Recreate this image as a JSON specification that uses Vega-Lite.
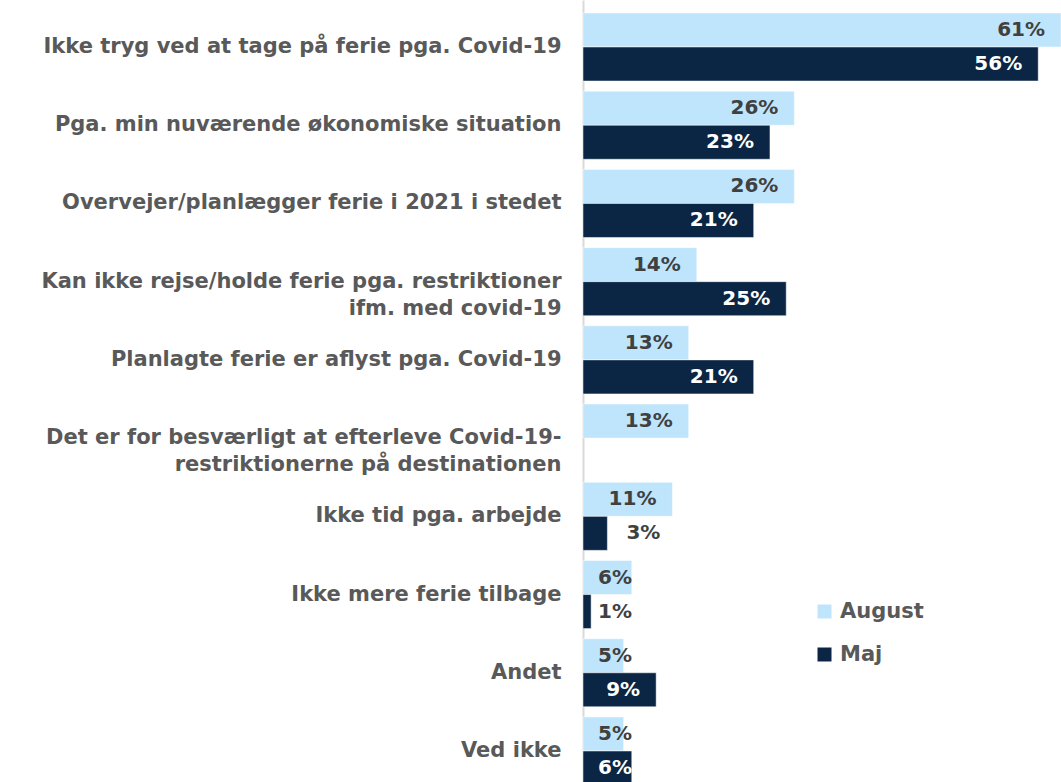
{
  "$schema": "https://vega.github.io/schema/vega-lite/v6.json",
  "autosize": {"type": "none"},
  "padding": {"left": 583, "top": 0, "right": 0, "bottom": 0},
  "width": 478,
  "height": 798,
  "config": {"view": {"stroke": null}, "font": "DejaVu Sans"},
  "data": {
    "values": [
      {"cat": "Ikke tryg ved at tage på ferie pga. Covid-19", "series": "August", "value": 0.61},
      {"cat": "Ikke tryg ved at tage på ferie pga. Covid-19", "series": "Maj", "value": 0.56},
      {"cat": "Pga. min nuværende økonomiske situation", "series": "August", "value": 0.26},
      {"cat": "Pga. min nuværende økonomiske situation", "series": "Maj", "value": 0.23},
      {"cat": "Overvejer/planlægger ferie i 2021 i stedet", "series": "August", "value": 0.26},
      {"cat": "Overvejer/planlægger ferie i 2021 i stedet", "series": "Maj", "value": 0.21},
      {"cat": "Kan ikke rejse/holde ferie pga.  restriktioner|ifm. med covid-19", "series": "August", "value": 0.14},
      {"cat": "Kan ikke rejse/holde ferie pga.  restriktioner|ifm. med covid-19", "series": "Maj", "value": 0.25},
      {"cat": "Planlagte ferie er aflyst pga. Covid-19", "series": "August", "value": 0.13},
      {"cat": "Planlagte ferie er aflyst pga. Covid-19", "series": "Maj", "value": 0.21},
      {"cat": "Det er for besværligt at efterleve Covid-19-|restriktionerne på destinationen", "series": "August", "value": 0.13},
      {"cat": "Ikke tid pga. arbejde", "series": "August", "value": 0.11},
      {"cat": "Ikke tid pga. arbejde", "series": "Maj", "value": 0.03},
      {"cat": "Ikke mere ferie tilbage", "series": "August", "value": 0.06},
      {"cat": "Ikke mere ferie tilbage", "series": "Maj", "value": 0.01},
      {"cat": "Andet", "series": "August", "value": 0.05},
      {"cat": "Andet", "series": "Maj", "value": 0.09},
      {"cat": "Ved ikke", "series": "August", "value": 0.05},
      {"cat": "Ved ikke", "series": "Maj", "value": 0.06}
    ]
  },
  "encoding": {
    "y": {
      "field": "cat",
      "type": "nominal",
      "sort": null,
      "scale": {"paddingInner": 0.13, "paddingOuter": 0.166},
      "axis": {
        "title": null,
        "ticks": false,
        "domain": true,
        "domainColor": "#D9D9D9",
        "domainWidth": 2,
        "labelExpr": "split(datum.label, '|')",
        "labelPadding": 22,
        "labelFontSize": 21,
        "labelFontWeight": "bold",
        "labelColor": "#595959",
        "labelLimit": 0,
        "labelLineHeight": 27
      }
    },
    "yOffset": {"field": "series", "type": "nominal", "sort": ["August", "Maj"], "scale": {"paddingInner": 0, "paddingOuter": 0}},
    "x": {"field": "value", "type": "quantitative", "scale": {"domain": [0, 0.588], "nice": false, "clamp": true}, "axis": null}
  },
  "layer": [
    {
      "mark": {"type": "bar", "stroke": "white", "strokeWidth": 0.5},
      "encoding": {
        "color": {
          "field": "series",
          "type": "nominal",
          "scale": {"domain": ["August", "Maj"], "range": ["#BEE5FB", "#0A2644"]},
          "legend": {
            "title": null,
            "orient": "none",
            "legendX": 231,
            "legendY": 601,
            "symbolType": "square",
            "symbolSize": 196,
            "symbolStrokeWidth": 0,
            "labelFontSize": 21,
            "labelFontWeight": "bold",
            "labelColor": "#595959",
            "labelOffset": 5,
            "rowPadding": 21,
            "padding": 0
          }
        }
      }
    },
    {
      "transform": [{"filter": "datum.value >= 0.085"}],
      "mark": {"type": "text", "align": "right", "baseline": "middle", "dx": -16, "fontSize": 20, "fontWeight": "bold"},
      "encoding": {
        "text": {"field": "value", "type": "quantitative", "format": ".0%"},
        "color": {"condition": {"test": "datum.series === 'Maj'", "value": "white"}, "value": "#404040"}
      }
    },
    {
      "transform": [{"filter": "(datum.value >= 0.04 && datum.value < 0.085) || datum.value < 0.02"}],
      "mark": {"type": "text", "align": "left", "baseline": "middle", "dx": 15, "fontSize": 20, "fontWeight": "bold"},
      "encoding": {
        "x": {"datum": 0, "type": "quantitative"},
        "text": {"field": "value", "type": "quantitative", "format": ".0%"},
        "color": {"condition": {"test": "datum.series === 'Maj' && datum.value >= 0.05", "value": "white"}, "value": "#404040"}
      }
    },
    {
      "transform": [{"filter": "datum.value >= 0.02 && datum.value < 0.04"}],
      "mark": {"type": "text", "align": "left", "baseline": "middle", "dx": 19, "fontSize": 20, "fontWeight": "bold"},
      "encoding": {
        "text": {"field": "value", "type": "quantitative", "format": ".0%"},
        "color": {"value": "#404040"}
      }
    }
  ]
}
